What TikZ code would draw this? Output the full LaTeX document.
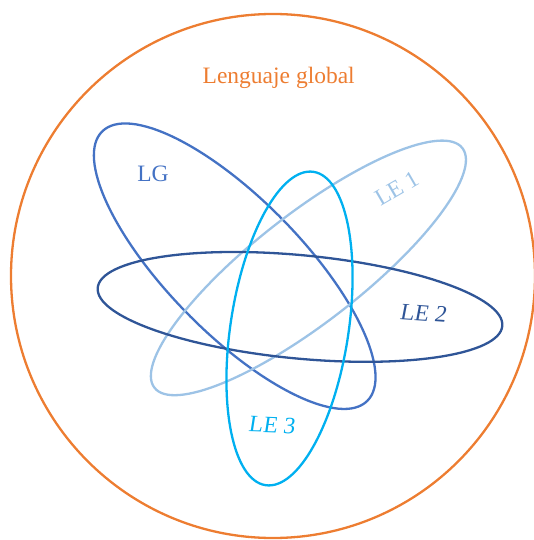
\documentclass[tikz,border=0pt]{standalone}
\usepackage{fontspec}
\setmainfont{Liberation Serif}
\definecolor{cOrange}{HTML}{ED7D31}
\definecolor{cLG}{HTML}{4472C4}
\definecolor{cLEa}{HTML}{9DC3E6}
\definecolor{cLEb}{HTML}{2F5597}
\definecolor{cLEc}{HTML}{00B0F0}
\begin{document}
\begin{tikzpicture}[x=1pt,y=-1pt,
  outline/.style={line width=2.3pt},
  lbl/.style={font=\fontsize{23.5}{25}\selectfont, inner sep=0pt}]
\useasboundingbox (0,0) rectangle (534,540);
% global circle
\draw[outline, cOrange] (273,276) circle [radius=262pt];
% LG
\draw[outline, cLG, rotate around={-45.5:(234.7,266.2)}] (234.7,266.2) ellipse [x radius=189pt, y radius=66.9pt];
% LE 1
\draw[outline, cLEa, rotate around={37.9:(308.4,267.9)}] (308.4,267.9) ellipse [x radius=195.1pt, y radius=54.3pt];
% LE 2
\draw[outline, cLEb, rotate around={-5.4:(300,306.9)}] (300,306.9) ellipse [x radius=203.2pt, y radius=51.7pt];
% LE 3
\draw[outline, cLEc, rotate around={-8.7:(289.5,328.5)}] (289.5,328.5) ellipse [x radius=59pt, y radius=158.5pt];
% labels
\node[lbl, text=cOrange] (global) at (278.7,78) {Lenguaje global};
\node[lbl, text=cLG] (lg) at (153,173.5) {LG};
\node[lbl, text=cLEa, rotate=30] (le1) at (396.7,188) {LE 1};
\node[lbl, text=cLEb, rotate=-4, xslant=0.12] (le2) at (424,313) {LE 2};
\node[lbl, text=cLEc, rotate=-2, xslant=0.12] (le3) at (272.5,425) {LE 3};
\end{tikzpicture}
\end{document}
